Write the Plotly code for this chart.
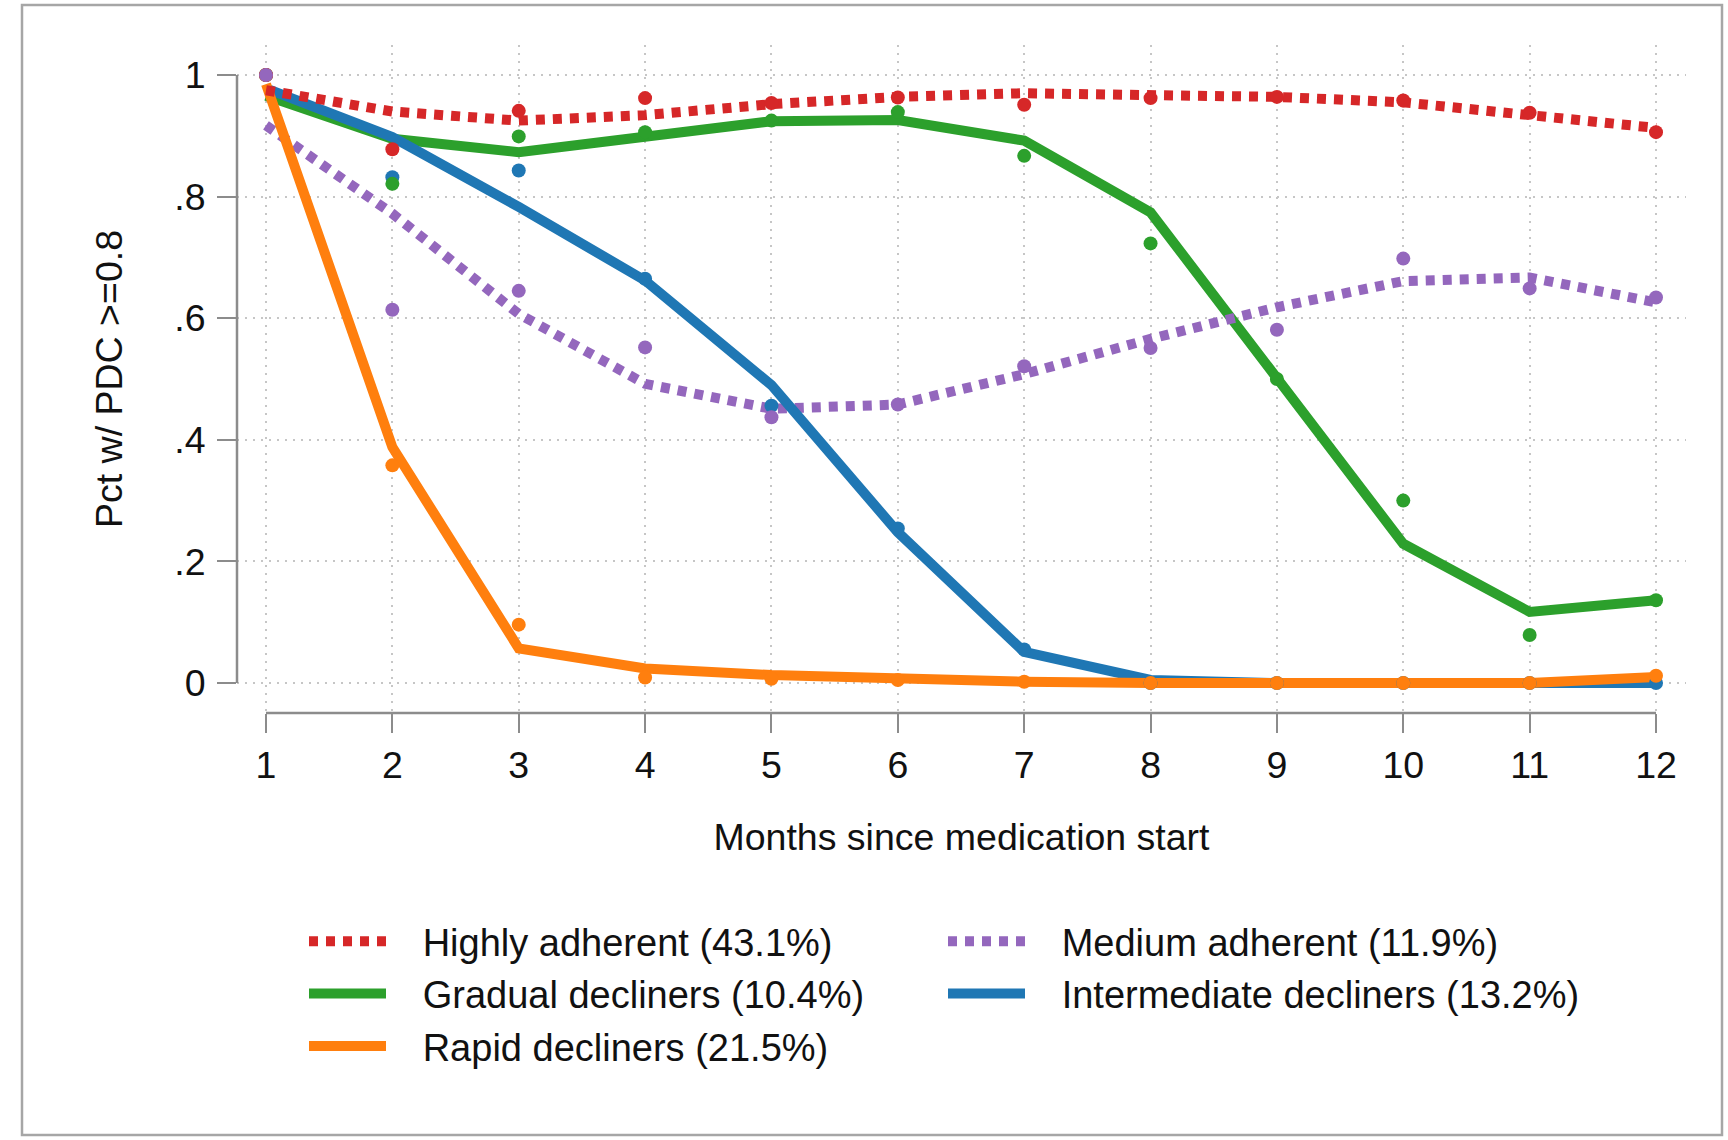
import plotly.graph_objects as go

# ---------------- data ----------------
months = list(range(1, 13))
ytick_vals = [0, 0.2, 0.4, 0.6, 0.8, 1]
ytick_text = ["0", ".2", ".4", ".6", ".8", "1"]

names = {
    "high": "Highly adherent (43.1%)",
    "medium": "Medium adherent (11.9%)",
    "gradual": "Gradual decliners (10.4%)",
    "intermediate": "Intermediate decliners (13.2%)",
    "rapid": "Rapid decliners (21.5%)",
}

high_fit = [0.975, 0.940, 0.925, 0.934, 0.952, 0.964, 0.970, 0.969, 0.964, 0.955, 0.934, 0.913]
high_obs = [1.0, 0.878, 0.941, 0.962, 0.954, 0.963, 0.951, 0.962, 0.964, 0.958, 0.938, 0.906]

medium_fit = [0.917, 0.772, 0.607, 0.492, 0.451, 0.458, 0.508, 0.566, 0.618, 0.661, 0.667, 0.626]
medium_obs = [1.0, 0.614, 0.645, 0.552, 0.437, 0.458, 0.521, 0.551, 0.581, 0.698, 0.649, 0.634]

gradual_fit = [0.966, 0.895, 0.873, 0.899, 0.924, 0.926, 0.892, 0.774, 0.503, 0.229, 0.117, 0.136]
gradual_obs = [1.0, 0.821, 0.899, 0.906, 0.925, 0.939, 0.867, 0.723, 0.500, 0.300, 0.079, 0.136]

intermediate_fit = [0.978, 0.898, 0.783, 0.662, 0.490, 0.248, 0.051, 0.005, 0.0, 0.0, 0.0, 0.0]
intermediate_obs = [1.0, 0.832, 0.843, 0.665, 0.456, 0.254, 0.055, 0.0, 0.0, 0.0, 0.0, 0.0]

rapid_fit = [0.985, 0.388, 0.057, 0.024, 0.013, 0.007, 0.002, 0.0, 0.0, 0.0, 0.0, 0.010]
rapid_obs = [1.0, 0.358, 0.096, 0.009, 0.007, 0.005, 0.002, 0.0, 0.0, 0.0, 0.0, 0.012]

# ---------------- styles ----------------
colors = {
    "high": "#d62728",
    "medium": "#9467bd",
    "gradual": "#2ca02c",
    "intermediate": "#1f77b4",
    "rapid": "#ff7f0e",
}
FONT = "Liberation Sans, Arial, sans-serif"
LW = 10
DOT = "9px,8px"
GAP = "\u00a0\u00a0\u00a0"  # spacing between legend key and label

W, H = 1728, 1140
PL, PR, PT, PB = 237, 1686, 45, 713  # plot area in pixels
X1PX, X12PX = 266, 1656
Y0PX, Y1PX = 683, 75

xppx = (months[-1] - months[0]) / (X12PX - X1PX)
yppx = 1.0 / (Y0PX - Y1PX)
xrange = [months[0] - (X1PX - PL) * xppx, months[-1] + (PR - X12PX) * xppx]
yrange = [0 - (PB - Y0PX) * yppx, 1 + (Y1PX - PT) * yppx]

fig = go.Figure()

fits = {
    "high": high_fit, "medium": medium_fit, "gradual": gradual_fit,
    "intermediate": intermediate_fit, "rapid": rapid_fit,
}
obs = {
    "high": high_obs, "medium": medium_obs, "gradual": gradual_obs,
    "intermediate": intermediate_obs, "rapid": rapid_obs,
}
dashes = {"high": DOT, "medium": DOT, "gradual": "solid", "intermediate": "solid", "rapid": "solid"}
legend_of = {"high": "legend", "gradual": "legend", "rapid": "legend",
             "medium": "legend2", "intermediate": "legend2"}
rank_of = {"high": 1, "gradual": 2, "rapid": 3, "medium": 1, "intermediate": 2}

for key in ["gradual", "medium", "intermediate", "rapid", "high"]:
    fig.add_trace(go.Scatter(
        x=months, y=fits[key], mode="lines", name=GAP + names[key],
        line=dict(color=colors[key], width=LW, dash=dashes[key]),
        legend=legend_of[key], legendrank=rank_of[key],
        hoverinfo="skip",
    ))

for key in ["intermediate", "gradual", "rapid", "high", "medium"]:
    fig.add_trace(go.Scatter(
        x=months, y=obs[key], mode="markers", showlegend=False,
        marker=dict(color=colors[key], size=14),
        hoverinfo="skip",
    ))

axis_common = dict(
    showline=False, zeroline=False,
    ticks="outside", ticklen=19, tickwidth=2, tickcolor="#8c8c8c",
    showgrid=True, gridcolor="#c6c6c6", gridwidth=1.5, griddash="2px,6px",
    tickfont=dict(family=FONT, size=37.5, color="#111111"),
)

def px2paper_x(px):
    return (px - PL) / (PR - PL)

def px2paper_y(py):
    return (PB - py) / (PB - PT)

legend_common = dict(
    xanchor="left", yanchor="top", orientation="v",
    itemwidth=77, bgcolor="rgba(0,0,0,0)", borderwidth=0,
    font=dict(family=FONT, size=38, color="#111111"),
)

fig.update_layout(
    width=W, height=H,
    margin=dict(l=PL, r=W - PR, t=PT, b=H - PB, pad=0),
    paper_bgcolor="white", plot_bgcolor="white",
    font=dict(family=FONT, size=37.5, color="#111111"),
    xaxis=dict(range=xrange, tickvals=months, ticktext=[str(m) for m in months],
               title=dict(text="Months since medication start", standoff=38,
                          font=dict(family=FONT, size=37.5, color="#111111")),
               **axis_common),
    yaxis=dict(range=yrange, tickvals=ytick_vals, ticktext=ytick_text,
               ticklabelstandoff=4,
               title=dict(text="Pct w/ PDC >=0.8", standoff=40,
                          font=dict(family=FONT, size=37.5, color="#111111")),
               **axis_common),
    legend=dict(x=px2paper_x(304), y=px2paper_y(910), **legend_common),
    legend2=dict(x=px2paper_x(943), y=px2paper_y(910), **legend_common),
    showlegend=True,
)

# axis lines spanning only the tick range (Stata style)
fig.add_shape(type="line", xref="x", yref="paper", x0=months[0], x1=months[-1], y0=0, y1=0,
              line=dict(color="#8c8c8c", width=2.5))
fig.add_shape(type="line", xref="paper", yref="y", x0=0, x1=0, y0=ytick_vals[0], y1=ytick_vals[-1],
              line=dict(color="#8c8c8c", width=2.5))

# outer frame around the graph
fig.add_shape(type="rect", xref="paper", yref="paper",
              x0=px2paper_x(22), x1=px2paper_x(1722), y0=px2paper_y(1135), y1=px2paper_y(5),
              line=dict(color="#a6a6a6", width=2.5), fillcolor="rgba(0,0,0,0)", layer="below")

fig.write_html("out.html",
               config={"displayModeBar": False},
               post_script="document.body.style.margin='0';document.body.style.overflow='hidden';")
